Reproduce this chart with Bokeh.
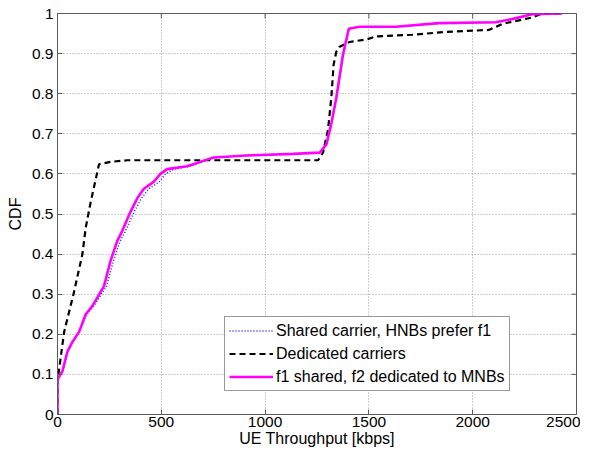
from bokeh.plotting import figure
from bokeh.models import FixedTicker, Range1d, Legend, LegendItem
from bokeh.embed import file_html
from bokeh.resources import INLINE

# ---- data ----
shared_x = [0, 0, 24, 48, 72, 104, 140, 176, 210, 236, 270, 302, 328, 370, 404, 440, 490, 520, 560, 640,
            700, 760, 911, 1135, 1263, 1297, 1321, 1345, 1377, 1405, 1455, 1631, 1838, 2110, 2190, 2286, 2430]
shared_y = [0, 0.088, 0.108, 0.157, 0.181, 0.206, 0.25, 0.271, 0.299, 0.32, 0.384, 0.433, 0.458, 0.506,
            0.539, 0.563, 0.58, 0.60, 0.612, 0.619, 0.630, 0.641, 0.646, 0.650, 0.653, 0.673, 0.726, 0.79,
            0.897, 0.962, 0.967, 0.967, 0.976, 0.978, 0.986, 0.998, 1.0]

dedicated_x = [0, 0, 32, 77, 120, 136, 160, 200, 256, 336, 800, 1255, 1279, 1303, 1319, 1330, 1343, 1359,
               1407, 1494, 1535, 1710, 1870, 2078, 2142, 2286, 2334, 2440]
dedicated_y = [0, 0.083, 0.206, 0.30, 0.40, 0.466, 0.53, 0.624, 0.630, 0.634, 0.634, 0.634, 0.653, 0.71,
               0.79, 0.872, 0.905, 0.917, 0.929, 0.936, 0.943, 0.947, 0.954, 0.959, 0.974, 0.99, 1.0, 1.0]

mixed_x = [0, 0, 24, 48, 72, 104, 136, 168, 200, 224, 256, 288, 312, 352, 384, 416, 463, 496, 528, 624,
           688, 751, 911, 1135, 1263, 1295, 1319, 1343, 1375, 1403, 1455, 1631, 1838, 2110, 2190, 2286, 2430]
mixed_y = [0, 0.088, 0.108, 0.157, 0.181, 0.206, 0.25, 0.271, 0.299, 0.32, 0.384, 0.433, 0.458, 0.506,
           0.539, 0.563, 0.58, 0.60, 0.612, 0.619, 0.630, 0.641, 0.646, 0.650, 0.653, 0.673, 0.726, 0.79,
           0.897, 0.962, 0.967, 0.967, 0.976, 0.978, 0.986, 0.998, 1.0]

x_ticks = [0, 500, 1000, 1500, 2000, 2500]
x_tick_labels = ["0", "500", "1000", "1500", "2000", "2500"]
y_ticks = [0, 0.1, 0.2, 0.3, 0.4, 0.5, 0.6, 0.7, 0.8, 0.9, 1]
y_tick_labels = ["0", "0.1", "0.2", "0.3", "0.4", "0.5", "0.6", "0.7", "0.8", "0.9", "1"]

legend_labels = ["Shared carrier, HNBs prefer f1", "Dedicated carriers", "f1 shared, f2 dedicated to MNBs"]

FONT = "Liberation Sans"
AXC = "#5a5a5a"
X0, X1, Y0, Y1 = 0, 2500, 0, 1

p = figure(width=580, height=450, output_backend="svg", toolbar_location=None,
           x_range=Range1d(X0, X1), y_range=Range1d(Y0, Y1),
           min_border_left=57, min_border_right=4, min_border_top=13, min_border_bottom=36)
p.outline_line_color = AXC
p.outline_line_width = 1

for ax, ticks, labels in ((p.xaxis[0], x_ticks, x_tick_labels), (p.yaxis[0], y_ticks, y_tick_labels)):
    ax.ticker = FixedTicker(ticks=ticks)
    ax.major_label_overrides = {t: l for t, l in zip(ticks, labels)}
    ax.major_tick_in = 5
    ax.major_tick_out = 0
    ax.minor_tick_line_color = None
    ax.axis_line_color = AXC
    ax.major_tick_line_color = AXC
    ax.major_label_text_font = FONT
    ax.major_label_text_font_size = "15.5px"
    ax.major_label_text_color = "black"
    ax.axis_label_text_font = FONT
    ax.axis_label_text_font_size = "16px"
    ax.axis_label_text_font_style = "normal"
    ax.axis_label_text_color = "black"

p.xaxis[0].axis_label = "UE Throughput [kbps]"
p.xaxis[0].major_label_standoff = 2
p.xaxis[0].axis_label_standoff = 0
p.yaxis[0].axis_label = "CDF"
p.yaxis[0].major_label_standoff = 4
p.yaxis[0].axis_label_standoff = 5

p.grid.grid_line_color = "#9a9a9a"
p.grid.grid_line_dash = "1 2"
p.grid.grid_line_width = 1
p.xgrid.ticker = FixedTicker(ticks=x_ticks)
p.ygrid.ticker = FixedTicker(ticks=y_ticks)

# inward tick marks on the top and right edges of the box
tx = (X1 - X0) * 5 / 519
ty = (Y1 - Y0) * 5 / 400
p.segment(x0=x_ticks, y0=[Y1] * len(x_ticks), x1=x_ticks, y1=[Y1 - ty] * len(x_ticks),
          line_color=AXC, line_width=1)
p.segment(x0=[X1] * len(y_ticks), y0=y_ticks, x1=[X1 - tx] * len(y_ticks), y1=y_ticks,
          line_color=AXC, line_width=1)

r1 = p.line(shared_x, shared_y, line_color="#1a1aff", line_width=1.5, line_dash="1 2")
r2 = p.line(dedicated_x, dedicated_y, line_color="black", line_width=2.2, line_dash="6 4")
r3 = p.line(mixed_x, mixed_y, line_color="#ff00ff", line_width=2.6)

legend = Legend(items=[LegendItem(label=legend_labels[0], renderers=[r1]),
                       LegendItem(label=legend_labels[1], renderers=[r2]),
                       LegendItem(label=legend_labels[2], renderers=[r3])],
                location=(167, 23))
legend.label_text_font = FONT
legend.label_text_font_size = "16px"
legend.label_text_color = "black"
legend.border_line_color = "#333333"
legend.border_line_width = 1
legend.background_fill_alpha = 1
legend.padding = 4
legend.spacing = 4
legend.margin = 0
legend.label_height = 19
legend.glyph_height = 19
legend.glyph_width = 44
legend.label_standoff = 3
p.add_layout(legend, "center")

open("out.html", "w").write(file_html(p, INLINE))
